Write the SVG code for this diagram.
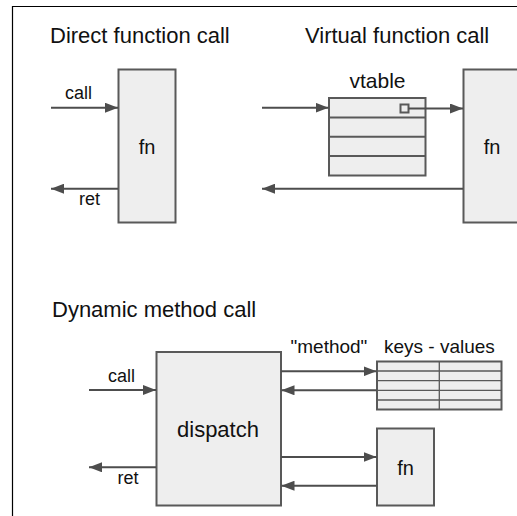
<svg xmlns="http://www.w3.org/2000/svg" width="517" height="516" viewBox="0 0 517 516">
<style>
.box{fill:#eeeeee;stroke:#595959;stroke-width:2}
.thin{stroke:#595959;stroke-width:1.3;fill:none}
.conn{stroke:#4d4d4d;stroke-width:2;fill:none;marker-end:url(#ah)}
.frame{stroke:#000;stroke-width:1.2;fill:none}
text{font-family:"Liberation Sans",Arial,sans-serif;fill:#111}
.title{font-size:22px}
.lbl{font-size:18px}
.lbl19{font-size:19px}
.nm{font-size:20px;text-anchor:middle}
</style>
<defs>
<marker id="ah" markerUnits="userSpaceOnUse" markerWidth="13" markerHeight="10" refX="13" refY="5" orient="auto">
<path d="M0,0 L13,5 L0,10 z" fill="#4d4d4d"/>
</marker>
</defs>
<rect width="517" height="516" fill="#fff"/>
<path class="frame" d="M12.5,516 V6.5 H517"/>

<text class="title" x="50" y="42.5">Direct function call</text>
<text class="title" x="305" y="42.5">Virtual function call</text>
<text class="title" x="52" y="316.5">Dynamic method call</text>

<g id="direct-fn">
<rect class="box" x="118.5" y="69.5" width="57" height="153"/>
<text class="nm" x="147" y="154">fn</text>
</g>

<g id="vtable">
<rect class="box" x="329" y="98" width="96.5" height="77.5"/>
<path class="box" d="M329,117.4 H425.5 M329,136.7 H425.5 M329,156 H425.5"/>
<rect x="400.5" y="104.5" width="8" height="8" fill="#eeeeee" stroke="#595959" stroke-width="2"/>
<text class="nm" x="377.5" y="87.5" style="font-size:21px">vtable</text>
</g>

<g id="virtual-fn">
<rect class="box" x="463.5" y="69.5" width="70" height="153"/>
<text class="nm" x="492" y="154">fn</text>
</g>

<g id="dispatch">
<rect class="box" x="156.5" y="352" width="124.5" height="153.5"/>
<text class="nm" x="218" y="436.5" style="font-size:22px">dispatch</text>
</g>

<g id="keys-values">
<rect class="box" x="377" y="361.5" width="124.5" height="48"/>
<path class="thin" d="M377,371 H501.5 M377,380.7 H501.5 M377,390.3 H501.5 M377,400 H501.5 M439.3,361.5 V409.5"/>
<text class="lbl19" x="384" y="352.5">keys - values</text>
</g>

<g id="dyn-fn">
<rect class="box" x="377" y="428.5" width="57" height="77"/>
<text class="nm" x="405.5" y="475">fn</text>
</g>

<g id="connectors">
<path class="conn" d="M51,107.7 H118"/>
<path class="conn" d="M118,188.7 H51"/>
<text class="lbl" x="65" y="99">call</text>
<text class="lbl" x="79" y="205">ret</text>

<path class="conn" d="M262,107.7 H328.5"/>
<path class="conn" d="M408.5,108.5 H463"/>
<path class="conn" d="M463,188.7 H262"/>

<path class="conn" d="M89,390 H156"/>
<path class="conn" d="M156,467.3 H89"/>
<text class="lbl" x="108" y="382">call</text>
<text class="lbl" x="117.5" y="484">ret</text>

<path class="conn" d="M281,371.3 H376.5"/>
<path class="conn" d="M376.5,390.3 H281.5"/>
<text class="lbl19" x="290.5" y="352.5">"method"</text>
<path class="conn" d="M281,457 H376.5"/>
<path class="conn" d="M376.5,485.7 H281.5"/>
</g>
</svg>
